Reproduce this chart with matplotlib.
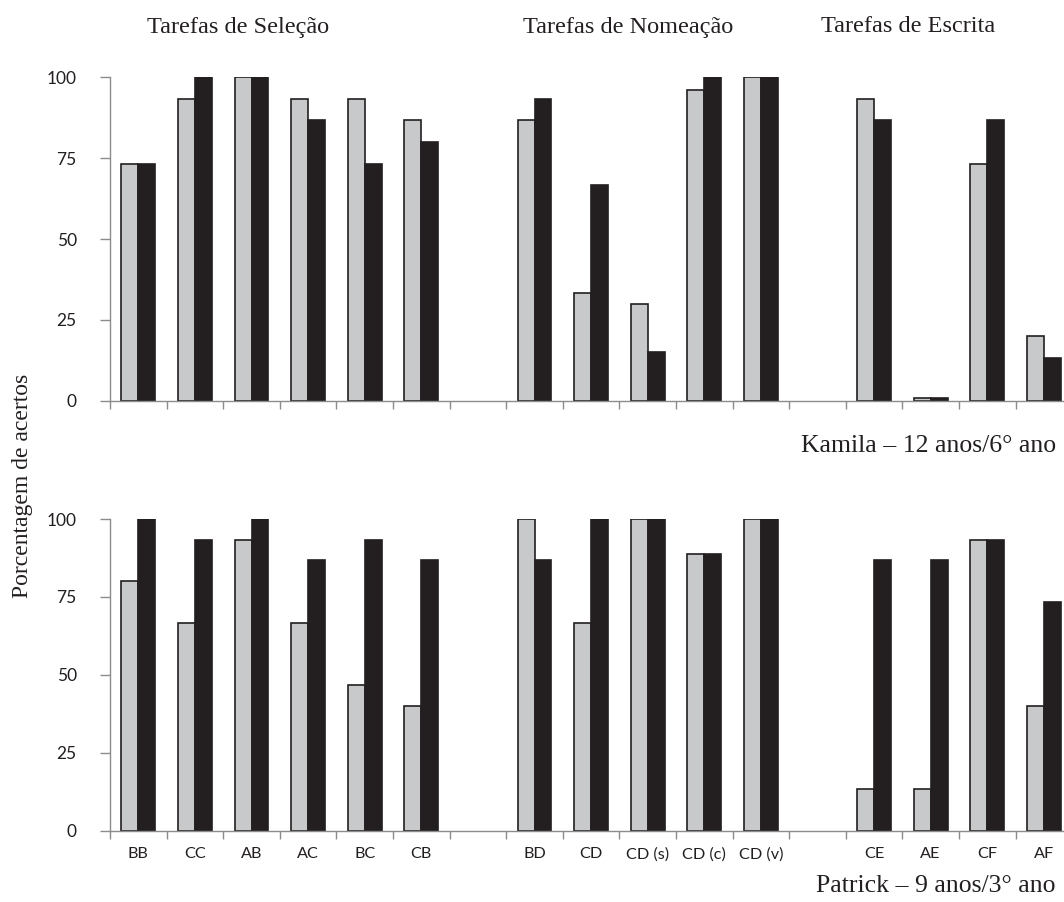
import matplotlib
matplotlib.use("Agg")
import matplotlib.pyplot as plt
import numpy as np

categories = ["BB", "CC", "AB", "AC", "BC", "CB", "",
              "BD", "CD", "CD (s)", "CD (c)", "CD (v)", "",
              "CE", "AE", "CF", "AF"]

# Kamila (top panel): light bars and dark bars (None = empty slot)
kamila_light = [73.3, 93.3, 100, 93.3, 93.3, 86.7, None,
                86.7, 33.3, 30, 96, 100, None,
                93.3, 0.7, 73.3, 20]
kamila_dark = [73.3, 100, 100, 86.7, 73.3, 80, None,
               93.3, 66.7, 15, 100, 100, None,
               86.7, 0.7, 86.7, 13.3]

# Patrick (bottom panel)
patrick_light = [80, 66.7, 93.3, 66.7, 46.7, 40, None,
                 100, 66.7, 100, 88.9, 100, None,
                 13.3, 13.3, 93.3, 40]
patrick_dark = [100, 93.3, 100, 86.7, 93.3, 86.7, None,
                86.7, 100, 100, 88.9, 100, None,
                86.7, 86.7, 93.3, 73.3]

yticks = [0, 25, 50, 75, 100]
group_titles = ["Tarefas de Seleção", "Tarefas de Nomeação", "Tarefas de Escrita"]
panel_labels = ["Kamila – 12 anos/6° ano", "Patrick – 9 anos/3° ano"]
ylabel = "Porcentagem de acertos"

W, H = 1064, 902
fig = plt.figure(figsize=(W / 100, H / 100), dpi=100)

LIGHT = "#c8c9cb"
DARK = "#231f20"
AXC = "#8c8c8c"
SANS = ["Lato", "DejaVu Sans"]
SERIF = ["Liberation Serif", "DejaVu Serif"]

slot_px = 56.6
left_px = 110
n = len(categories)


def fx(px):
    return px / W


def fy(py):
    return 1 - py / H


def make_ax(top_px, bottom_px):
    ax = fig.add_axes([fx(left_px), fy(bottom_px), (n * slot_px) / W,
                       (bottom_px - top_px) / H])
    return ax


def draw(ax, light, dark, show_labels):
    x = np.arange(n) + 0.5
    bw = 0.3
    for i in range(n):
        if light[i] is None:
            continue
        ax.bar(x[i] - bw / 2, light[i], width=bw, color=LIGHT,
               edgecolor=DARK, linewidth=1.2, zorder=3)
        ax.bar(x[i] + bw / 2, dark[i], width=bw, color=DARK,
               edgecolor=DARK, linewidth=1.2, zorder=3)
    ax.set_xlim(0, n)
    ax.set_ylim(0, 100)
    ax.set_yticks(yticks)
    ax.set_yticklabels([str(v) for v in yticks], fontsize=12.5,
                       family=SANS, color="#231f20")
    ax.set_xticks(np.arange(n + 1))
    ax.set_xticklabels([])
    ax.set_xticks(x, minor=True)
    if show_labels:
        ax.set_xticklabels(categories, minor=True, fontsize=11.7,
                           family=SANS, color="#231f20")
    else:
        ax.set_xticklabels([], minor=True)
    ax.tick_params(axis="x", which="major", length=6, width=1,
                   color=AXC, direction="out")
    ax.tick_params(axis="x", which="minor", length=0, pad=12)
    ax.tick_params(axis="y", length=7, width=1, color=AXC,
                   direction="out", pad=17)
    for s in ["top", "right"]:
        ax.spines[s].set_visible(False)
    for s in ["left", "bottom"]:
        ax.spines[s].set_color(AXC)
        ax.spines[s].set_linewidth(1)
        ax.spines[s].set_zorder(4)
    ax.set_facecolor("none")


ax1 = make_ax(77.3, 400.7)
draw(ax1, kamila_light, kamila_dark, False)
ax2 = make_ax(519.0, 830.7)
draw(ax2, patrick_light, patrick_dark, True)

# group titles
title_x = [238, 628, 908]
for t, xp in zip(group_titles, title_x):
    fig.text(fx(xp), fy(27), t, ha="center", va="center", fontsize=17.5,
             family=SERIF, color="#231f20")

fig.text(fx(1056), fy(451.5), panel_labels[0], ha="right", va="baseline",
         fontsize=18.5, family=SERIF, color="#231f20")
fig.text(fx(1056), fy(892.5), panel_labels[1], ha="right", va="baseline",
         fontsize=18.5, family=SERIF, color="#231f20")

fig.text(fx(23), fy(486), ylabel, rotation=90, ha="center", va="center",
         fontsize=17, family=SERIF, color="#231f20")

fig.savefig("out.png", dpi=100, facecolor="white")
